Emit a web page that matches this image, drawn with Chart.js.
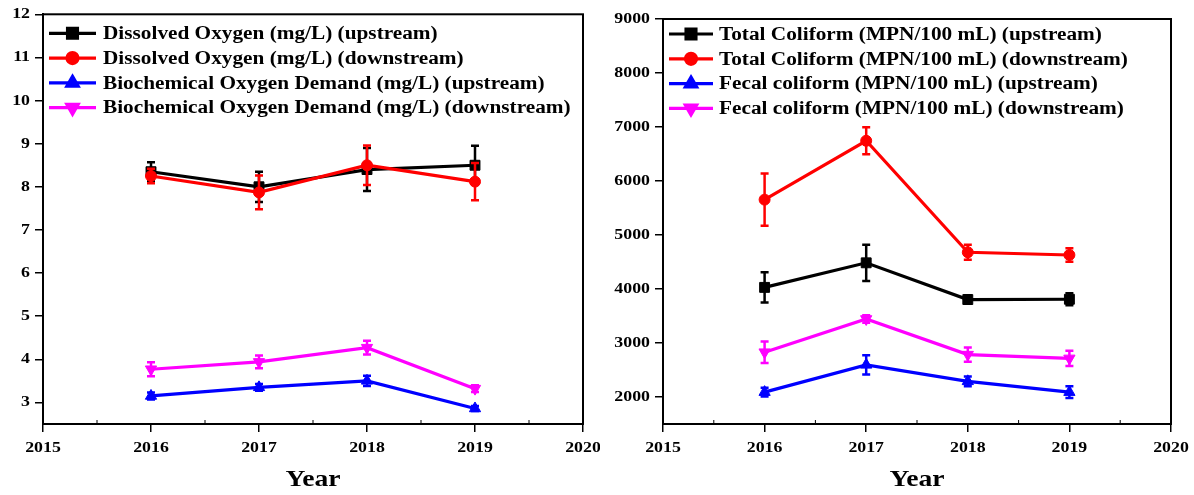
<!DOCTYPE html>
<html>
<head>
<meta charset="utf-8">
<script src="https://cdn.jsdelivr.net/npm/chart.js@4"></script>
<style>
  html, body { margin: 0; padding: 0; background: #fff; }
  #wrap { position: relative; width: 1194px; height: 495px; }
  #left { position: absolute; left: 0; top: 0; }
  #right { position: absolute; left: 600px; top: 0; }
</style>
</head>
<body>
<div id="wrap">
  <canvas id="left" width="600" height="495"></canvas>
  <canvas id="right" width="594" height="495"></canvas>
</div>
<script>
// years and axis ticks
const years = [2016, 2017, 2018, 2019];
const xTicks = [2015, 2016, 2017, 2018, 2019, 2020];
const yTicksLeft = [3, 4, 5, 6, 7, 8, 9, 10, 11, 12];
const yTicksRight = [2000, 3000, 4000, 5000, 6000, 7000, 8000, 9000];

// left panel: DO / BOD (mg/L), mean and error
const doUp = [8.35, 8.0, 8.4, 8.5];
const doUpErr = [0.22, 0.35, 0.5, 0.45];
const doDown = [8.25, 7.87, 8.5, 8.12];
const doDownErr = [0.17, 0.39, 0.46, 0.43];
const bodUp = [3.15, 3.35, 3.5, 2.86];
const bodUpErr = [0.08, 0.08, 0.12, 0.06];
const bodDown = [3.77, 3.94, 4.27, 3.32];
const bodDownErr = [0.16, 0.15, 0.16, 0.08];

// right panel: coliforms (MPN/100 mL)
const tcUp = [4030, 4485, 3805, 3810];
const tcUpErr = [280, 335, 80, 110];
const tcDown = [5655, 6745, 4680, 4630];
const tcDownErr = [485, 250, 140, 125];
const fcUp = [2090, 2595, 2290, 2090];
const fcUpErr = [80, 180, 90, 110];
const fcDown = [2830, 3445, 2785, 2715];
const fcDownErr = [200, 70, 130, 140];

const SX = 1.15; // text in the original is stretched horizontally
const serif = '"Liberation Serif", "Times New Roman", serif';

// stretch every text draw around its anchor
function stretchText(ctx) {
  const orig = ctx.fillText;
  ctx.fillText = function (t, x, y, mw) {
    this.save();
    this.translate(x, y);
    this.scale(SX, 1);
    if (mw === undefined) orig.call(this, t, 0, 0);
    else orig.call(this, t, 0, 0, mw / SX);
    this.restore();
  };
}

function series(vals) {
  return vals.map((v, i) => ({ x: years[i], y: v }));
}

function mkDataset(label, vals, errs, color, style, rot) {
  return {
    label: label,
    data: series(vals),
    errors: errs,
    borderColor: color,
    backgroundColor: color,
    borderWidth: 3.2,
    pointStyle: style,
    pointRotation: rot || 0,
    pointRadius: style === 'rect' ? 7 : (style === 'circle' ? 5.5 : 6.5),
    pointBorderWidth: 1,
    tension: 0
  };
}

const errorBars = {
  id: 'errorBars',
  afterDatasetDraw(chart, args) {
    const ds = chart.data.datasets[args.index];
    if (!ds.errors) return;
    const ctx = chart.ctx;
    const xs = chart.scales.x, ys = chart.scales.y;
    ctx.save();
    ctx.strokeStyle = ds.borderColor;
    ctx.lineWidth = 2.5;
    ds.data.forEach((p, i) => {
      const px = xs.getPixelForValue(p.x);
      const t = ys.getPixelForValue(p.y + ds.errors[i]);
      const b = ys.getPixelForValue(p.y - ds.errors[i]);
      ctx.beginPath();
      ctx.moveTo(px, t); ctx.lineTo(px, b);
      ctx.moveTo(px - 4, t); ctx.lineTo(px + 4, t);
      ctx.moveTo(px - 4, b); ctx.lineTo(px + 4, b);
      ctx.stroke();
    });
    ctx.restore();
  }
};

const frame = {
  id: 'frame',
  afterDraw(chart) {
    const ctx = chart.ctx, a = chart.chartArea;
    ctx.save();
    ctx.strokeStyle = '#000';
    ctx.lineWidth = 2;
    ctx.strokeRect(a.left, a.top, a.right - a.left, a.bottom - a.top);
    // small inward minor ticks on the year axis
    ctx.lineWidth = 1;
    const xs = chart.scales.x;
    for (let i = 0; i < xTicks.length - 1; i++) {
      const px = xs.getPixelForValue((xTicks[i] + xTicks[i + 1]) / 2);
      ctx.beginPath();
      ctx.moveTo(px, a.bottom); ctx.lineTo(px, a.bottom - 4);
      ctx.stroke();
    }
    ctx.restore();
  }
};

const lineLegend = {
  id: 'lineLegend',
  afterDraw(chart, args, opts) {
    const ctx = chart.ctx, a = chart.chartArea;
    ctx.save();
    chart.data.datasets.forEach((ds, i) => {
      const y = a.top + opts.top + i * opts.row;
      const x0 = a.left + opts.x0, x1 = a.left + opts.x1;
      ctx.strokeStyle = ds.borderColor;
      ctx.lineWidth = 3.2;
      ctx.beginPath();
      ctx.moveTo(x0, y); ctx.lineTo(x1, y);
      ctx.stroke();
      ctx.fillStyle = ds.backgroundColor;
      Chart.helpers.drawPoint(ctx, {
        pointStyle: ds.pointStyle, rotation: ds.pointRotation,
        radius: ds.pointRadius, borderWidth: 1
      }, (x0 + x1) / 2, y);
      ctx.fillStyle = '#000';
      ctx.font = 'bold 18.5px ' + serif;
      ctx.textAlign = 'left';
      ctx.textBaseline = 'middle';
      ctx.fillText(ds.label, a.left + opts.tx, y + 1);
    });
    ctx.restore();
  }
};

function makeChart(id, datasets, yMin, yMax, yTicks, yWidth, pad, legend) {
  const canvas = document.getElementById(id);
  const ctx = canvas.getContext('2d');
  stretchText(ctx);
  const tickFont = { family: serif, size: 15.5, weight: 'bold' };
  return new Chart(ctx, {
    type: 'line',
    data: { datasets: datasets },
    plugins: [errorBars, frame, lineLegend],
    options: {
      responsive: false,
      animation: false,
      layout: { padding: pad },
      plugins: {
        legend: { display: false },
        tooltip: { enabled: false },
        lineLegend: legend
      },
      scales: {
        x: {
          type: 'linear', min: 2015, max: 2020,
          afterBuildTicks: s => { s.ticks = xTicks.map(v => ({ value: v })); },
          afterFit: s => { s.height = 71; s.paddingLeft = 0; s.paddingRight = 0; },
          grid: { drawOnChartArea: false, tickLength: 8, color: '#000', lineWidth: 1.5 },
          border: { color: '#000', width: 2 },
          ticks: { color: '#000', font: tickFont, padding: 7, maxRotation: 0, callback: v => String(v) },
          title: { display: true, text: 'Year', color: '#000', font: { family: serif, size: 24, weight: 'bold' }, padding: { top: 0, bottom: 1 } }
        },
        y: {
          type: 'linear', min: yMin, max: yMax,
          afterBuildTicks: s => { s.ticks = yTicks.map(v => ({ value: v })); },
          afterFit: s => { s.width = yWidth; },
          grid: { drawOnChartArea: false, tickLength: 8, color: '#000', lineWidth: 1.5 },
          border: { color: '#000', width: 2 },
          ticks: { color: '#000', font: tickFont, padding: 5, callback: v => String(v) }
        }
      }
    }
  });
}

const leftSets = [
  mkDataset('Dissolved Oxygen (mg/L) (upstream)', doUp, doUpErr, '#000000', 'rect'),
  mkDataset('Dissolved Oxygen (mg/L) (downstream)', doDown, doDownErr, '#ff0000', 'circle'),
  mkDataset('Biochemical Oxygen Demand (mg/L) (upstream)', bodUp, bodUpErr, '#0000ff', 'triangle'),
  mkDataset('Biochemical Oxygen Demand (mg/L) (downstream)', bodDown, bodDownErr, '#ff00ff', 'triangle', 180)
];
const rightSets = [
  mkDataset('Total Coliform (MPN/100 mL) (upstream)', tcUp, tcUpErr, '#000000', 'rect'),
  mkDataset('Total Coliform (MPN/100 mL) (downstream)', tcDown, tcDownErr, '#ff0000', 'circle'),
  mkDataset('Fecal coliform (MPN/100 mL) (upstream)', fcUp, fcUpErr, '#0000ff', 'triangle'),
  mkDataset('Fecal coliform (MPN/100 mL) (downstream)', fcDown, fcDownErr, '#ff00ff', 'triangle', 180)
];
// later series drawn on top
leftSets.forEach((d, i) => { d.order = 3 - i; });
rightSets.forEach((d, i) => { d.order = 3 - i; });

makeChart('left', leftSets, 2.5, 12, yTicksLeft, 43,
  { top: 14, right: 17, left: 0, bottom: 0 },
  { x0: 6, x1: 53, tx: 60, top: 19, row: 24.8 });
makeChart('right', rightSets, 1500, 9000, yTicksRight, 63,
  { top: 19, right: 23, left: 0, bottom: 0 },
  { x0: 6, x1: 50, tx: 56, top: 15, row: 24.8 });
</script>
</body>
</html>
